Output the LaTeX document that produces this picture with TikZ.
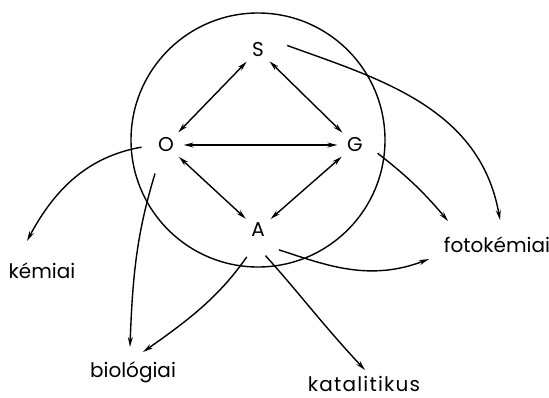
\documentclass[tikz,border=0pt]{standalone}
\usepackage{fontspec}
\setmainfont{Poppins}
\usetikzlibrary{arrows.meta}

\begin{document}
\begin{tikzpicture}[x=1pt, y=1pt, >={Stealth[length=10pt,width=5pt]}, line width=1.4pt,
  every node/.style={font=\fontsize{20}{24}\selectfont},
  state/.style={circle, inner sep=4.5pt},
  field/.style={inner sep=0pt, anchor=base}]
  \useasboundingbox (0,0) rectangle (549,-397);

  % the big circle
  \draw (258,-140) circle (127);

  % states
  \node[state] (S) at (258,-50) {S};
  \node[state] (O) at (166,-145) {O};
  \node[state] (G) at (355,-145) {G};
  \node[state] (A) at (258,-230) {A};

  % couplings inside
  \draw[<->] (S) -- (O);
  \draw[<->] (S) -- (G);
  \draw[<->] (O) -- (G);
  \draw[<->] (O) -- (A);
  \draw[<->] (G) -- (A);

  % fields
  \node[field] (kemiai) at (42,-278) {kémiai};
  \node[field] (biologiai) at (133,-377) {biológiai};
  \node[field] (katalitikus) at (364,-391) {\addfontfeatures{LetterSpace=6}katalitikus};
  \node[field] (fotokemiai) at (497,-252) {fotokémiai};

  % outgoing
  \draw[->, shorten <=7pt] (O.183) to[out=190, in=62] ([shift={(-15,37)}]kemiai.base);
  \draw[->, shorten <=13pt] (O.246) to[out=253, in=88] ([shift={(-3,30)}]biologiai.base);
  \draw[->, shorten <=13pt] (A.257) to[out=235, in=35] ([shift={(10,25)}]biologiai.base);
  \draw[->, shorten <=12pt] (A.268) to[out=-48, in=133] ([shift={(1,21)}]katalitikus.base);
  \draw[->, shorten <=15pt] (A.294) to[out=-18, in=201] ([shift={(-68,-7)}]fotokemiai.base);
  \draw[->, shorten <=7pt] (G.347) to[out=-38, in=130] ([shift={(-49,31)}]fotokemiai.base);
  \draw[->, shorten <=18pt] (S.41) to[out=-20, in=100] ([shift={(3,32)}]fotokemiai.base);
\end{tikzpicture}
\end{document}
